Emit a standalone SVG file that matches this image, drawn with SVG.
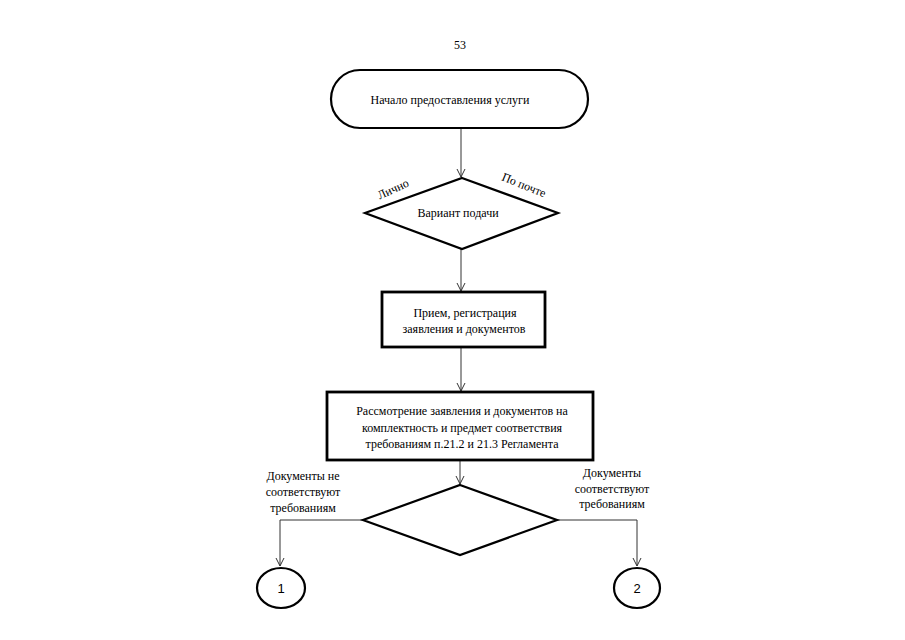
<svg xmlns="http://www.w3.org/2000/svg" width="905" height="640" viewBox="0 0 905 640">
<style>
.shape{fill:#fff;stroke:#000;stroke-width:2.2}
.box{fill:#fff;stroke:#000;stroke-width:2.8}
.conn{fill:none;stroke:#333;stroke-width:1}
text{font-family:"Liberation Serif","Times New Roman",serif;font-size:12px;fill:#000}
.c{text-anchor:middle}
.num{font-family:"Liberation Sans",Arial,sans-serif;font-size:13px}
</style>
<defs>
<marker id="arr" markerWidth="10" markerHeight="10" refX="8" refY="5" orient="auto" markerUnits="userSpaceOnUse">
<path d="M0,1 L8,5 L0,9" fill="none" stroke="#333" stroke-width="1"/>
</marker>
</defs>
<rect width="905" height="640" fill="#fff"/>
<text class="c" x="460" y="49">53</text>
<g id="connectors">
<line class="conn" x1="461" y1="128" x2="461" y2="177" marker-end="url(#arr)"/>
<line class="conn" x1="461" y1="249" x2="461" y2="291" marker-end="url(#arr)"/>
<line class="conn" x1="461" y1="347" x2="461" y2="391" marker-end="url(#arr)"/>
<line class="conn" x1="460" y1="460" x2="460" y2="484" marker-end="url(#arr)"/>
<polyline class="conn" points="363,520 280,520 280,566" marker-end="url(#arr)"/>
<polyline class="conn" points="557,520 637,520 637,566" marker-end="url(#arr)"/>
</g>
<g id="start">
<rect class="shape" x="331" y="70" width="257" height="58" rx="29" ry="29"/>
<text class="c" x="450" y="104">Начало предоставления услуги</text>
</g>
<g id="decision1">
<polygon class="shape" points="462,178 558,213 462,249 365,213"/>
<text class="c" x="458" y="217">Вариант подачи</text>
<text class="c" x="393" y="193" transform="rotate(-25 393 189)">Лично</text>
<text class="c" x="524" y="189" transform="rotate(22 524 185)">По почте</text>
</g>
<g id="receive">
<rect class="box" x="382" y="292" width="163" height="55"/>
<text class="c" x="465" y="317">Прием, регистрация</text>
<text class="c" x="464" y="333">заявления и документов</text>
</g>
<g id="review">
<rect class="box" x="327" y="392" width="266" height="68"/>
<text class="c" x="462" y="415">Рассмотрение заявления и документов на</text>
<text class="c" x="462" y="432">комплектность и предмет соответствия</text>
<text class="c" x="462" y="448">требованиям п.21.2 и 21.3 Регламента</text>
</g>
<g id="decision2">
<polygon class="shape" points="460,485 557,520 460,555 363,520"/>
<text class="c" x="303" y="480">Документы  не</text>
<text class="c" x="303" y="496">соответствуют</text>
<text class="c" x="303" y="512">требованиям</text>
<text class="c" x="612" y="477">Документы</text>
<text class="c" x="612" y="493">соответствуют</text>
<text class="c" x="612" y="508">требованиям</text>
</g>
<g id="end1">
<ellipse class="shape" cx="281" cy="588" rx="24" ry="20"/>
<text class="c num" x="281" y="593">1</text>
</g>
<g id="end2">
<ellipse class="shape" cx="637" cy="588" rx="23" ry="20"/>
<text class="c num" x="637" y="593">2</text>
</g>
</svg>
